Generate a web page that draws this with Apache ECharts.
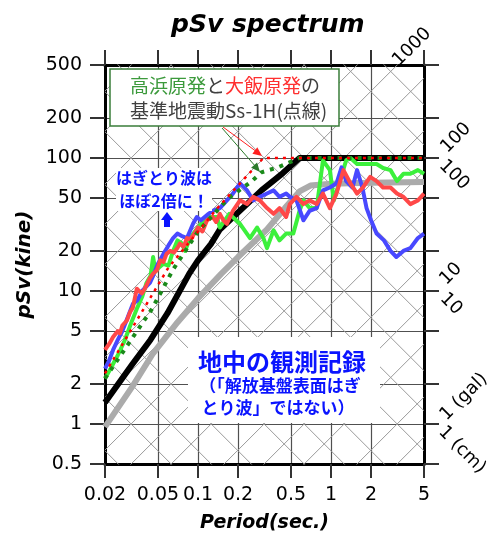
<!DOCTYPE html>
<html>
<head>
<meta charset="utf-8">
<script src="https://cdn.jsdelivr.net/npm/echarts@6/dist/echarts.min.js"></script>
<style>
  html, body { margin: 0; padding: 0; background: #fff; }
  #main { width: 489px; height: 538px; }
</style>
</head>
<body>
<div id="main"></div>
<script>
// 目盛り
var xTicks = [0.02, 0.05, 0.1, 0.2, 0.5, 1, 2, 5];
var yTicks = [0.5, 1, 2, 5, 10, 20, 50, 100, 200, 500];
// 三軸図の斜め線 (加速度 gal / 変位 cm)
var accelLevels = [1, 2, 5, 10, 20, 50, 100, 200, 500, 1000, 2000, 5000, 10000, 20000, 50000, 100000];
var dispLevels = [0.002, 0.005, 0.01, 0.02, 0.05, 0.1, 0.2, 0.5, 1, 2, 5, 10, 20, 50, 100, 200];

// 黒太線
var periodBlack = [0.02, 0.032, 0.044, 0.059, 0.086, 0.1, 0.125, 0.146, 0.25, 0.3, 0.435, 0.58, 5];
var svBlack = [1.45, 2.8, 4.3, 6.8, 13.5, 17, 22.5, 29, 48, 57, 77, 100, 100];
// 灰色太線
var periodGrey = [0.02, 0.032, 0.046, 0.07, 0.1, 0.15, 0.2, 0.33, 0.45, 0.58, 0.7, 1, 2, 5];
var svGrey = [0.95, 1.9, 3.4, 5.8, 8.8, 13.5, 18, 29, 42, 56, 62, 64, 65, 66];
// 基準地震動Ss-1H (点線)
var periodOhiSs = [0.02, 0.06, 0.14, 0.31, 5];
var svOhiSs = [2.4, 15, 42, 100, 100];
var periodTakaSs = [0.02, 0.045, 0.065, 0.1, 0.17, 0.25, 0.3, 0.4, 0.58, 5];
var svTakaSs = [2.2, 7.3, 14.5, 28, 50, 66, 78, 85, 100, 100];

// 観測記録 (赤)
var periodRed = [0.02, 0.0215, 0.023, 0.025, 0.0259, 0.027, 0.0292, 0.031, 0.0324, 0.0347, 0.036, 0.038, 0.04, 0.0435, 0.046, 0.049, 0.052, 0.055, 0.058, 0.0617, 0.066, 0.07, 0.073, 0.078, 0.0827, 0.087, 0.0918, 0.1, 0.108, 0.117, 0.129, 0.137, 0.146, 0.155, 0.165, 0.183, 0.207, 0.234, 0.26, 0.292, 0.33, 0.37, 0.41, 0.46, 0.49, 0.52, 0.55, 0.62, 0.69, 0.78, 0.87, 0.98, 1.1, 1.24, 1.4, 1.57, 1.74, 1.97, 2.2, 2.46, 2.8, 3.13, 3.5, 3.95, 4.5, 5];
var svRed = [3.6, 4.0, 4.5, 5.0, 4.8, 5.5, 6.0, 7.0, 7.5, 10.4, 10.0, 9.6, 10.5, 12.5, 13.5, 14.3, 17, 16.5, 19, 20, 19.5, 21, 22.7, 21.5, 25, 24.5, 26, 30, 28, 34, 36, 33, 38, 34, 32, 40, 48, 45, 51, 48, 42, 38, 42, 36, 45, 48, 51, 45, 48, 45, 54, 42, 54, 81, 64.5, 54, 60, 72, 67, 60, 60, 54, 51, 45, 48, 54];
// 観測記録 (青)
var periodBlue = [0.02, 0.0215, 0.023, 0.025, 0.027, 0.029, 0.0324, 0.035, 0.038, 0.0435, 0.046, 0.05, 0.055, 0.06, 0.065, 0.07, 0.075, 0.0827, 0.0918, 0.098, 0.105, 0.12, 0.129, 0.146, 0.165, 0.183, 0.207, 0.234, 0.26, 0.292, 0.33, 0.37, 0.41, 0.46, 0.49, 0.55, 0.62, 0.69, 0.78, 0.87, 0.98, 1.1, 1.2, 1.3, 1.45, 1.57, 1.72, 1.85, 2.0, 2.2, 2.5, 2.8, 3.1, 3.5, 3.95, 4.5, 5];
var svBlue = [2.6, 3.0, 3.6, 4.3, 5.0, 6.0, 8.0, 8.5, 10, 11.5, 13, 16, 19, 22, 25, 27, 26, 25, 32, 36, 34, 38, 40, 42, 48, 54, 64.5, 57, 48, 51, 54, 57, 51, 54, 51, 48, 34, 40, 42, 57, 60, 64.5, 85, 67, 60, 81, 60, 42, 34, 27, 24, 20, 18, 20, 21, 25, 27];
// 観測記録 (緑)
var periodGreen = [0.02, 0.022, 0.025, 0.028, 0.032, 0.035, 0.038, 0.041, 0.044, 0.046, 0.048, 0.051, 0.055, 0.06, 0.065, 0.07, 0.075, 0.08, 0.087, 0.1, 0.117, 0.139, 0.146, 0.172, 0.207, 0.246, 0.278, 0.31, 0.33, 0.37, 0.41, 0.46, 0.52, 0.58, 0.62, 0.69, 0.78, 0.87, 0.98, 1.05, 1.15, 1.3, 1.4, 1.57, 1.74, 1.97, 2.2, 2.46, 2.8, 3.13, 3.5, 3.95, 4.5, 5];
var svGreen = [2.2, 2.6, 3.3, 4.2, 6.0, 7.5, 9, 11.5, 13, 18, 14, 15, 16, 15.5, 20, 24, 23, 20, 25, 30, 36, 36, 30, 38, 32, 25, 30, 25, 21, 28.6, 24, 27, 27, 40, 48, 42, 42, 96, 81, 48, 64.5, 96, 100, 90, 90, 90, 90, 84, 81, 67, 76, 76, 81, 76];

function pairs(xs, ys) {
  return xs.map(function (x, i) { return [x, ys[i]]; });
}

var chart = echarts.init(document.getElementById('main'));

var series = [];
// 斜め線
accelLevels.forEach(function (a) {
  series.push({
    type: 'line', silent: true, symbol: 'none', z: 1,
    lineStyle: { color: '#9a9a9a', width: 1 },
    data: [[0.02, a * 0.02 / (2 * Math.PI)], [5, a * 5 / (2 * Math.PI)]]
  });
});
dispLevels.forEach(function (d) {
  series.push({
    type: 'line', silent: true, symbol: 'none', z: 1,
    lineStyle: { color: '#9a9a9a', width: 1 },
    data: [[0.02, 2 * Math.PI * d / 0.02], [5, 2 * Math.PI * d / 5]]
  });
});

function curve(name, xs, ys, color, width, type, z) {
  return {
    name: name, type: 'line', symbol: 'none', z: z,
    lineStyle: { color: color, width: width, type: type || 'solid', cap: 'butt', join: 'round' },
    data: pairs(xs, ys)
  };
}

series.push(curve('grey', periodGrey, svGrey, '#ababab', 6, 'solid', 3));
series.push(curve('black', periodBlack, svBlack, '#000', 6, 'solid', 4));
series.push(curve('green', periodGreen, svGreen, '#3cf03c', 4, 'solid', 5));
series.push(curve('blue', periodBlue, svBlue, '#4848ff', 4, 'solid', 6));
series.push(curve('red', periodRed, svRed, '#ff4848', 4, 'solid', 7));
series.push(curve('takahama', periodTakaSs, svTakaSs, '#1a8a1a', 4, [4, 6], 8));
series.push(curve('ohi', periodOhiSs, svOhiSs, '#ff0000', 2.5, [3, 5], 9));

function label(v) { return String(v); }

var option = {
  animation: false,
  title: {
    text: 'pSv spectrum',
    left: 166, top: 8,
    textStyle: { fontFamily: 'DejaVu Sans', fontStyle: 'italic', fontWeight: 'bold', fontSize: 25, color: '#000' }
  },
  grid: { left: 105, right: 65, top: 65, bottom: 74, outerBoundsMode: 'none' },
  xAxis: [{
    type: 'log', min: 0.02, max: 5, position: 'bottom',
    name: 'Period(sec.)', nameLocation: 'middle', nameGap: 50,
    nameTextStyle: { fontFamily: 'DejaVu Sans', fontStyle: 'italic', fontWeight: 'bold', fontSize: 19, color: '#000' },
    axisLine: { lineStyle: { color: '#000', width: 3 } },
    axisTick: { customValues: xTicks, length: 14, lineStyle: { color: '#333', width: 2 } },
    axisLabel: { customValues: xTicks, formatter: label, margin: 22, fontFamily: 'DejaVu Sans', fontSize: 19, color: '#000' },
    splitLine: { show: true, lineStyle: { color: '#505050', width: 1.2 } }
  }, {
    type: 'log', min: 0.02, max: 5, position: 'top',
    axisLine: { lineStyle: { color: '#000', width: 3 } },
    axisTick: { customValues: xTicks, length: 15, lineStyle: { color: '#333', width: 2 } },
    axisLabel: { show: false },
    splitLine: { show: false }
  }],
  yAxis: [{
    type: 'log', min: 0.5, max: 500, position: 'left',
    name: 'pSv(kine)', nameLocation: 'middle', nameGap: 70, nameRotate: 90,
    nameTextStyle: { fontFamily: 'DejaVu Sans', fontStyle: 'italic', fontWeight: 'bold', fontSize: 20, color: '#000' },
    axisLine: { lineStyle: { color: '#000', width: 3 } },
    axisTick: { customValues: yTicks, length: 15, lineStyle: { color: '#333', width: 2 } },
    axisLabel: { customValues: yTicks, formatter: label, margin: 23, fontFamily: 'DejaVu Sans', fontSize: 19, color: '#000' },
    splitLine: { show: true, lineStyle: { color: '#505050', width: 1.2 } }
  }, {
    type: 'log', min: 0.5, max: 500, position: 'right',
    axisLine: { lineStyle: { color: '#000', width: 3 } },
    axisTick: { customValues: yTicks, length: 15, lineStyle: { color: '#333', width: 2 } },
    axisLabel: { show: false },
    splitLine: { show: false }
  }],
  series: series,
  graphic: { elements: [
    // 斜め線のラベル
    { type: 'text', x: 412, y: 47, rotation: Math.PI / 4, style: { text: '1000', font: '18px "DejaVu Sans"', fill: '#000', align: 'center', verticalAlign: 'middle' } },
    { type: 'text', x: 456, y: 138, rotation: Math.PI / 4, style: { text: '100', font: '18px "DejaVu Sans"', fill: '#000', align: 'center', verticalAlign: 'middle' } },
    { type: 'text', x: 454, y: 175, rotation: -Math.PI / 4, style: { text: '100', font: '18px "DejaVu Sans"', fill: '#000', align: 'center', verticalAlign: 'middle' } },
    { type: 'text', x: 451, y: 274, rotation: Math.PI / 4, style: { text: '10', font: '18px "DejaVu Sans"', fill: '#000', align: 'center', verticalAlign: 'middle' } },
    { type: 'text', x: 451, y: 304, rotation: -Math.PI / 4, style: { text: '10', font: '18px "DejaVu Sans"', fill: '#000', align: 'center', verticalAlign: 'middle' } },
    { type: 'text', x: 464, y: 397, rotation: Math.PI / 4, style: { text: '1 (gal)', font: '18px "DejaVu Sans"', fill: '#000', align: 'center', verticalAlign: 'middle' } },
    { type: 'text', x: 462, y: 450, rotation: -Math.PI / 4, style: { text: '1 (cm)', font: '18px "DejaVu Sans"', fill: '#000', align: 'center', verticalAlign: 'middle' } },

    // 基準地震動の説明枠
    { type: 'rect', z: 100, shape: { x: 110, y: 69, width: 229, height: 57 }, style: { fill: '#fff', stroke: '#3a7d3a', lineWidth: 1.5 } },
    { type: 'text', z: 101, x: 130, y: 86, style: { text: '高浜原発', font: '19px "Noto Sans CJK JP"', fill: '#3c9a3c', verticalAlign: 'middle' } },
    { type: 'text', z: 101, x: 206, y: 86, style: { text: 'と', font: '19px "Noto Sans CJK JP"', fill: '#404040', verticalAlign: 'middle' } },
    { type: 'text', z: 101, x: 225, y: 86, style: { text: '大飯原発', font: '19px "Noto Sans CJK JP"', fill: '#ff3030', verticalAlign: 'middle' } },
    { type: 'text', z: 101, x: 301, y: 86, style: { text: 'の', font: '19px "Noto Sans CJK JP"', fill: '#404040', verticalAlign: 'middle' } },
    { type: 'text', z: 101, x: 130, y: 111, style: { text: '基準地震動Ss-1H(点線)', font: '19px "Noto Sans CJK JP"', fill: '#404040', verticalAlign: 'middle' } },
    // 矢印
    { type: 'line', z: 100, shape: { x1: 223, y1: 127, x2: 257, y2: 152 }, style: { stroke: '#ff2020', lineWidth: 1 } },
    { type: 'polygon', z: 100, shape: { points: [[262, 156], [252.4, 153.7], [257.3, 147.3]] }, style: { fill: '#ff2020' } },
    { type: 'line', z: 100, shape: { x1: 222, y1: 128, x2: 256, y2: 167 }, style: { stroke: '#2a7a2a', lineWidth: 1 } },
    { type: 'polygon', z: 100, shape: { points: [[260, 172], [251.1, 167.8], [257.1, 162.6]] }, style: { fill: '#2a7a2a' } },

    // はぎとり波
    { type: 'rect', z: 100, shape: { x: 116, y: 168, width: 96, height: 43 }, style: { fill: '#fff' } },
    { type: 'text', z: 101, x: 164, y: 178, style: { text: 'はぎとり波は', font: 'bold 16px "Noto Sans CJK JP"', fill: '#0a14ff', align: 'center', verticalAlign: 'middle' } },
    { type: 'text', z: 101, x: 164, y: 201, style: { text: 'ほぼ2倍に！', font: 'bold 16px "Noto Sans CJK JP"', fill: '#0a14ff', align: 'center', verticalAlign: 'middle' } },
    { type: 'polygon', z: 101, shape: { points: [[167, 212], [173, 220], [170, 220], [170, 227], [164, 227], [164, 220], [161, 220]] }, style: { fill: '#0a14ff' } },

    // 地中の観測記録
    { type: 'rect', z: 100, shape: { x: 188, y: 337, width: 192, height: 86 }, style: { fill: '#fff' } },
    { type: 'text', z: 101, x: 282, y: 362, style: { text: '地中の観測記録', font: 'bold 24px "Noto Sans CJK JP"', fill: '#0a14ff', align: 'center', verticalAlign: 'middle' } },
    { type: 'text', z: 101, x: 280, y: 386, style: { text: '（「解放基盤表面はぎ', font: 'bold 17px "Noto Sans CJK JP"', fill: '#0a14ff', align: 'center', verticalAlign: 'middle' } },
    { type: 'text', z: 101, x: 278, y: 408, style: { text: 'とり波」ではない）', font: 'bold 17px "Noto Sans CJK JP"', fill: '#0a14ff', align: 'center', verticalAlign: 'middle' } }
  ] }
};

chart.setOption(option);
</script>
</body>
</html>
